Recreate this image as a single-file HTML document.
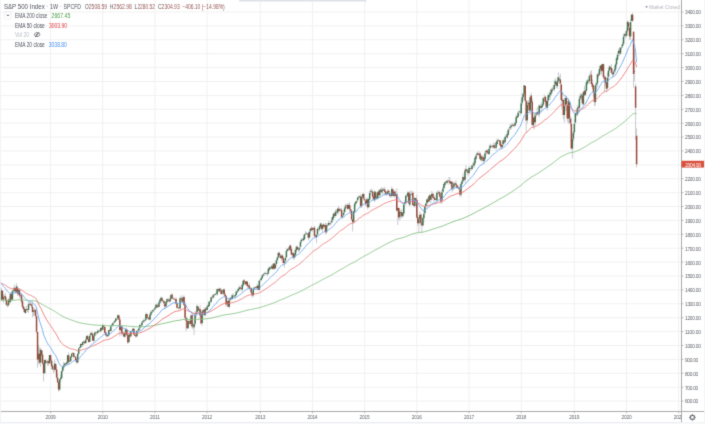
<!DOCTYPE html>
<html><head><meta charset="utf-8">
<style>
html,body{margin:0;padding:0;background:#fff;}
body{width:705px;height:424px;overflow:hidden;position:relative;font-family:"Liberation Sans",sans-serif;}
svg{will-change:transform}
</style></head><body>
<svg width="705" height="424" viewBox="0 0 705 424" font-family="Liberation Sans, sans-serif" style="position:absolute;left:0;top:0">
<defs><filter id="bl" filterUnits="userSpaceOnUse" x="-4" y="-4" width="713" height="432" color-interpolation-filters="sRGB"><feConvolveMatrix order="3" kernelMatrix="0.0144 0.0912 0.0144 0.0912 0.5776 0.0912 0.0144 0.0912 0.0144" edgeMode="none" preserveAlpha="true"/></filter></defs><g filter="url(#bl)">
<rect x="-5" y="-5" width="715" height="434" fill="#fff"/>
<path d="M0 401.09H681.50M0 387.19H681.50M0 373.30H681.50M0 359.40H681.50M0 345.50H681.50M0 331.61H681.50M0 317.71H681.50M0 303.82H681.50M0 289.92H681.50M0 276.02H681.50M0 262.13H681.50M0 248.23H681.50M0 234.34H681.50M0 220.44H681.50M0 206.54H681.50M0 192.65H681.50M0 178.75H681.50M0 164.86H681.50M0 150.96H681.50M0 137.06H681.50M0 123.17H681.50M0 109.27H681.50M0 95.38H681.50M0 81.48H681.50M0 67.58H681.50M0 53.69H681.50M0 39.79H681.50M0 25.90H681.50M0 12.00H681.50M50.60 0V411.50M102.78 0V411.50M154.95 0V411.50M207.13 0V411.50M260.31 0V411.50M312.49 0V411.50M364.66 0V411.50M416.84 0V411.50M469.02 0V411.50M521.19 0V411.50M574.37 0V411.50M626.55 0V411.50M678.73 0V411.50" stroke="#f1f1f1" stroke-width="1.00" fill="none"/>
<g font-family="Liberation Sans, sans-serif">
<text x="3.90" y="8.70" textLength="40.90" lengthAdjust="spacingAndGlyphs" fill="#50535e" font-size="6.30">S&amp;P 500 Index</text>
<text x="50.10" y="8.70" textLength="8.10" lengthAdjust="spacingAndGlyphs" fill="#50535e" font-size="6.30">1W</text>
<text x="63.50" y="8.70" textLength="17.60" lengthAdjust="spacingAndGlyphs" fill="#50535e" font-size="6.30">SPCFD</text>
<rect x="46.5" y="5.9" width="1.3" height="0.7" fill="#b4b7bf"/><rect x="59.9" y="5.9" width="1.3" height="0.7" fill="#b4b7bf"/>
<text x="84.90" y="8.70" textLength="3.70" lengthAdjust="spacingAndGlyphs" fill="#50535e" font-size="6.30">O</text>
<text x="88.80" y="8.70" textLength="18.20" lengthAdjust="spacingAndGlyphs" fill="#985858" font-size="6.30">2508.59</text>
<text x="110.10" y="8.70" textLength="3.40" lengthAdjust="spacingAndGlyphs" fill="#50535e" font-size="6.30">H</text>
<text x="113.60" y="8.70" textLength="18.20" lengthAdjust="spacingAndGlyphs" fill="#985858" font-size="6.30">2562.98</text>
<text x="134.50" y="8.70" textLength="2.90" lengthAdjust="spacingAndGlyphs" fill="#50535e" font-size="6.30">L</text>
<text x="137.40" y="8.70" textLength="17.50" lengthAdjust="spacingAndGlyphs" fill="#985858" font-size="6.30">2280.52</text>
<text x="157.90" y="8.70" textLength="3.60" lengthAdjust="spacingAndGlyphs" fill="#50535e" font-size="6.30">C</text>
<text x="161.60" y="8.70" textLength="18.10" lengthAdjust="spacingAndGlyphs" fill="#985858" font-size="6.30">2304.93</text>
<text x="182.30" y="8.70" textLength="42.40" lengthAdjust="spacingAndGlyphs" fill="#985858" font-size="6.30">−406.10 (−14.98%)</text>
<text x="15.00" y="17.70" textLength="32.30" lengthAdjust="spacingAndGlyphs" fill="#50535e" font-size="6.30">EMA 200 close</text>
<text x="51.60" y="17.70" textLength="18.70" lengthAdjust="spacingAndGlyphs" fill="#4c9c4c" font-size="6.30">2667.45</text>
<text x="15.00" y="27.90" textLength="29.80" lengthAdjust="spacingAndGlyphs" fill="#50535e" font-size="6.30">EMA 50 close</text>
<text x="49.00" y="27.90" textLength="17.90" lengthAdjust="spacingAndGlyphs" fill="#e03a3a" font-size="6.30">3003.90</text>
<text x="15.00" y="36.90" textLength="14.00" lengthAdjust="spacingAndGlyphs" fill="#b8bbc4" font-size="6.30">Vol 20</text>
<text x="15.00" y="47.30" textLength="29.80" lengthAdjust="spacingAndGlyphs" fill="#50535e" font-size="6.30">EMA 20 close</text>
<text x="48.80" y="47.30" textLength="18.10" lengthAdjust="spacingAndGlyphs" fill="#4a8ee8" font-size="6.30">3038.80</text>
</g>
<rect x="4.6" y="11.6" width="6.6" height="7.6" rx="0.8" fill="none" stroke="#e3e5ea" stroke-width="0.5"/>
<path d="M6.8 14.7L7.95 15.9L9.1 14.7" fill="none" stroke="#555" stroke-width="0.95"/>
<g transform="translate(37.1 34.6)" fill="none" stroke="#5a5d66" stroke-width="0.8"><path d="M-3.1 0Q0 -4.0 3.1 0Q0 4.0 -3.1 0Z"/><circle r="0.75" fill="#5a5d66" stroke="none"/><path d="M-2.1 2.5L2.1 -2.5"/></g>
<path d="M-2.58 274.69V290.33M-1.58 285.00V292.41M-0.57 287.32V300.87M0.43 299.20V303.15M1.43 287.59V300.60M2.44 290.26V299.95M3.44 294.44V302.85M4.44 294.53V298.10M5.45 292.85V301.25M6.45 297.78V305.64M7.45 303.19V307.39M8.46 298.36V306.46M9.46 296.24V303.84M10.46 293.16V303.34M11.47 291.67V300.33M12.47 289.61V300.49M13.47 287.21V292.39M14.48 284.52V292.46M15.48 287.60V293.80M16.48 283.40V293.55M17.49 285.95V295.80M18.49 288.88V295.36M19.49 288.07V298.27M20.50 293.47V297.68M21.50 293.88V303.50M22.50 297.83V308.67M23.51 305.74V311.47M24.51 307.15V312.64M25.52 308.51V313.87M26.52 305.90V310.50M27.52 309.00V312.17M28.53 301.93V312.90M29.53 302.66V305.16M30.53 301.60V305.39M31.54 303.57V308.13M32.54 301.27V317.12M33.54 309.71V316.28M34.55 308.30V314.52M35.55 309.40V318.12M36.55 315.12V333.39M37.56 331.89V367.77M38.56 344.67V364.26M39.56 347.59V364.26M40.57 347.73V367.04M41.57 349.90V355.76M42.57 350.92V364.64M43.58 362.87V381.49M44.58 359.82V373.30M45.58 359.06V363.76M46.59 362.04V363.76M47.59 360.29V365.91M48.59 358.41V365.74M49.60 354.74V363.69M50.60 354.68V362.77M51.60 359.14V369.79M52.61 364.35V370.02M53.61 368.45V373.17M54.61 360.04V371.98M55.62 362.84V369.89M56.62 366.22V379.04M57.62 374.40V383.06M58.63 381.36V391.81M59.63 379.13V391.08M60.63 374.50V382.26M61.64 370.75V378.53M62.64 366.86V372.28M63.64 361.75V370.93M64.65 363.30V366.69M65.65 362.51V365.87M66.65 361.51V364.73M67.66 354.58V363.62M68.66 352.25V364.49M69.66 359.83V362.66M70.67 356.49V361.75M71.67 352.87V357.91M72.67 352.14V354.15M73.68 352.27V358.36M74.68 355.90V357.64M75.69 355.74V361.80M76.69 358.72V364.15M77.69 353.59V363.16M78.70 347.97V354.74M79.70 346.29V348.87M80.70 343.32V347.84M81.71 343.39V346.45M82.71 341.41V346.94M83.71 340.36V343.26M84.72 341.12V343.81M85.72 337.58V343.94M86.72 334.72V340.39M87.73 335.05V339.76M88.73 338.74V342.97M89.73 334.16V342.18M90.74 331.56V336.61M91.74 331.24V335.38M92.74 332.48V341.05M93.75 334.80V342.19M94.75 332.05V336.72M95.75 331.31V333.61M96.76 330.78V334.87M97.76 328.90V333.48M98.76 330.11V331.79M99.77 329.57V332.53M100.77 327.26V332.07M101.77 326.46V329.95M102.78 323.74V330.59M103.78 325.04V327.72M104.78 326.73V333.26M105.79 331.20V336.13M106.79 333.67V337.61M107.79 333.17V336.44M108.80 329.76V336.32M109.80 328.39V331.41M110.80 324.96V331.52M111.81 323.75V326.16M112.81 322.24V326.30M113.81 321.50V324.14M114.82 320.01V322.64M115.82 317.95V321.58M116.82 318.44V320.66M117.83 314.77V319.39M118.83 314.23V320.15M119.83 317.02V336.36M120.84 325.79V330.83M121.84 325.56V335.77M122.84 331.79V335.24M123.85 331.65V337.26M124.85 329.78V338.07M125.86 327.59V335.01M126.86 328.72V336.25M127.86 334.67V343.99M128.87 333.09V343.22M129.87 331.70V337.62M130.87 330.41V337.32M131.88 330.38V332.35M132.88 327.98V331.30M133.88 327.63V335.15M134.89 334.00V335.96M135.89 334.80V337.96M136.89 329.60V336.64M137.90 329.26V331.60M138.90 327.74V330.45M139.90 323.98V329.55M140.91 324.51V326.36M141.91 321.61V327.12M142.91 320.31V323.32M143.92 318.49V322.43M144.92 318.93V322.49M145.92 312.46V320.40M146.93 313.33V318.93M147.93 316.62V319.72M148.93 317.07V319.83M149.94 313.49V320.62M150.94 309.95V316.54M151.94 311.24V313.35M152.95 309.24V311.87M153.95 308.76V312.24M154.95 307.13V309.80M155.96 304.21V308.25M156.96 303.35V308.27M157.96 304.67V307.80M158.97 300.96V307.06M159.97 298.44V303.99M160.97 296.95V301.09M161.98 296.46V302.31M162.98 300.41V301.93M163.98 299.66V305.58M164.99 301.13V309.01M165.99 301.32V306.72M166.99 298.36V303.80M168.00 297.80V301.47M169.00 299.16V302.25M170.00 296.41V302.63M171.01 294.04V300.06M172.01 293.25V299.61M173.01 296.38V299.56M174.02 298.10V300.09M175.02 297.66V300.73M176.03 297.18V304.15M177.03 302.52V308.32M178.03 307.44V308.81M179.04 306.10V309.41M180.04 297.68V309.05M181.04 295.31V299.34M182.05 297.38V301.95M183.05 295.44V302.20M184.05 295.39V305.76M185.06 301.78V318.79M186.06 317.71V331.40M187.06 316.46V328.83M188.07 319.56V328.63M189.07 320.57V323.50M190.07 320.34V324.77M191.08 314.62V326.09M192.08 313.00V328.58M193.08 323.29V329.47M194.09 321.74V335.11M195.09 311.13V325.77M196.09 310.49V317.67M197.10 304.14V312.91M198.10 306.33V311.27M199.10 308.06V314.37M200.11 305.20V318.80M201.11 313.92V324.43M202.11 309.85V325.54M203.12 309.47V314.72M204.12 308.83V316.56M205.12 306.81V315.92M206.13 307.30V310.89M207.13 304.76V310.37M208.13 304.69V307.72M209.14 301.38V306.48M210.14 300.43V304.00M211.14 296.21V302.71M212.15 296.56V299.10M213.15 293.88V298.71M214.15 293.80V297.61M215.16 293.56V295.60M216.16 291.96V294.59M217.16 288.30V296.06M218.17 288.87V290.89M219.17 287.59V292.41M220.17 287.95V291.37M221.18 288.56V294.54M222.18 290.39V294.45M223.18 289.14V294.92M224.19 288.00V295.99M225.19 293.05V297.39M226.19 295.24V306.81M227.20 300.36V304.94M228.20 299.09V307.01M229.21 299.79V308.44M230.21 297.42V301.40M231.21 296.95V300.37M232.22 293.90V299.78M233.22 293.29V297.72M234.22 295.66V297.43M235.23 294.22V298.56M236.23 290.32V295.73M237.23 290.41V292.72M238.24 288.41V292.34M239.24 285.58V290.50M240.24 285.83V289.48M241.25 287.47V291.45M242.25 282.99V291.44M243.25 279.31V286.97M244.26 279.40V282.53M245.26 280.96V285.07M246.26 280.84V285.12M247.27 280.82V288.15M248.27 284.50V287.36M249.27 282.89V289.13M250.28 286.74V290.99M251.28 287.20V293.59M252.28 292.70V297.79M253.29 287.13V296.67M254.29 286.96V289.69M255.29 286.05V288.74M256.30 286.25V289.61M257.30 283.79V288.79M258.30 284.43V290.73M259.31 280.22V290.20M260.31 278.97V280.98M261.31 276.40V281.33M262.32 274.84V278.73M263.32 273.79V276.22M264.32 272.17V275.73M265.33 271.47V274.54M266.33 272.63V274.22M267.33 272.73V276.17M268.34 267.67V274.24M269.34 266.35V270.74M270.34 267.49V269.05M271.35 264.53V268.82M272.35 265.00V269.79M273.35 263.38V269.52M274.36 263.07V269.91M275.36 263.60V268.81M276.37 259.40V265.03M277.37 256.94V262.34M278.37 252.17V258.04M279.38 251.44V255.74M280.38 254.28V258.61M281.38 254.68V260.70M282.39 254.04V260.35M283.39 256.08V264.73M284.39 260.18V267.64M285.40 256.76V263.13M286.40 249.11V258.06M287.40 248.07V251.47M288.41 248.33V250.66M289.41 244.78V250.95M290.41 244.64V251.34M291.42 246.66V255.49M292.42 252.80V257.19M293.42 251.93V259.95M294.43 253.19V259.27M295.43 248.77V257.32M296.43 245.82V252.84M297.44 245.42V250.23M298.44 246.99V252.06M299.44 247.01V252.00M300.45 239.41V247.43M301.45 238.04V242.53M302.45 238.97V240.77M303.46 235.76V241.15M304.46 233.86V239.84M305.46 231.21V235.10M306.47 232.18V234.39M307.47 232.95V236.37M308.47 231.99V240.42M309.48 230.28V238.66M310.48 227.37V233.42M311.48 226.06V231.08M312.49 227.17V231.63M313.49 227.07V230.21M314.49 225.80V237.47M315.50 234.58V237.19M316.50 234.61V242.97M317.50 227.19V235.40M318.51 228.02V230.18M319.51 224.99V231.39M320.51 222.60V228.52M321.52 223.02V230.49M322.52 224.05V231.71M323.52 223.08V227.68M324.53 224.47V227.25M325.53 222.62V234.44M326.54 223.27V233.37M327.54 224.51V226.63M328.54 220.78V225.88M329.55 222.32V225.01M330.55 221.77V225.70M331.55 217.87V222.71M332.56 215.40V222.86M333.56 212.96V220.33M334.56 211.90V216.23M335.57 209.42V216.74M336.57 210.37V213.58M337.57 207.83V214.72M338.58 205.82V213.55M339.58 207.62V211.54M340.58 208.33V211.55M341.59 207.81V217.68M342.59 214.77V218.41M343.59 210.50V216.19M344.60 205.28V213.01M345.60 203.77V210.53M346.60 204.31V207.09M347.61 203.57V209.87M348.61 203.11V209.45M349.61 202.12V211.96M350.62 207.40V213.81M351.62 209.60V219.61M352.62 219.61V231.46M353.63 210.87V223.31M354.63 202.37V213.08M355.63 200.74V205.49M356.64 200.30V203.22M357.64 196.33V201.10M358.64 195.49V198.72M359.65 195.30V197.75M360.65 194.29V207.19M361.65 195.66V208.00M362.66 193.35V198.55M363.66 193.12V200.39M364.66 197.31V201.40M365.67 198.59V205.87M366.67 198.44V206.70M367.67 197.35V209.51M368.68 197.81V207.90M369.68 190.52V200.30M370.68 189.01V195.11M371.69 188.70V192.94M372.69 189.56V200.36M373.69 194.09V200.43M374.70 190.77V202.10M375.70 191.44V198.87M376.71 194.74V199.25M377.71 190.93V199.55M378.71 189.38V196.41M379.72 189.71V197.90M380.72 188.01V192.55M381.72 187.35V193.62M382.73 187.76V194.86M383.73 187.81V190.71M384.73 187.02V195.42M385.74 190.87V195.63M386.74 191.72V195.86M387.74 188.90V194.70M388.75 189.78V195.01M389.75 191.79V197.41M390.75 194.73V197.99M391.76 186.36V196.94M392.76 188.00V196.32M393.76 189.61V197.38M394.77 190.60V197.96M395.77 191.82V196.95M396.77 188.16V212.20M397.78 207.52V225.03M398.78 207.52V220.02M399.78 210.13V220.65M400.79 210.07V218.61M401.79 208.74V217.65M402.79 212.19V217.41M403.80 202.47V214.99M404.80 200.43V204.95M405.80 194.41V205.35M406.81 193.90V197.26M407.81 191.23V196.94M408.81 191.59V204.74M409.82 191.46V206.46M410.82 190.32V195.15M411.82 190.71V195.81M412.83 191.30V205.71M413.83 202.70V206.93M414.83 197.18V207.77M415.84 197.28V201.76M416.84 194.74V218.35M417.84 214.31V225.99M418.85 219.19V232.63M419.85 211.39V222.05M420.85 213.71V226.16M421.86 223.08V232.93M422.86 216.39V226.44M423.86 208.82V222.36M424.87 205.29V214.03M425.87 202.98V208.50M426.88 198.76V206.86M427.88 197.23V203.41M428.88 195.38V202.40M429.89 193.97V201.40M430.89 194.56V203.39M431.89 190.89V199.86M432.90 192.87V198.97M433.90 196.40V201.96M434.90 194.95V200.72M435.91 198.09V200.60M436.91 191.28V202.35M437.91 190.21V194.12M438.92 190.12V195.28M439.92 191.09V198.53M440.92 195.46V203.87M441.93 190.05V203.59M442.93 186.50V192.75M443.93 182.84V189.41M444.94 181.63V186.81M445.94 180.07V184.83M446.94 180.49V184.08M447.95 179.71V182.43M448.95 177.01V184.86M449.95 177.11V184.01M450.96 180.75V187.15M451.96 180.99V192.22M452.96 185.54V190.77M453.97 181.58V187.82M454.97 182.17V185.12M455.97 180.25V187.59M456.98 184.17V188.66M457.98 185.90V187.85M458.98 185.24V190.21M459.99 188.27V197.05M460.99 183.09V196.85M461.99 180.06V184.95M463.00 173.39V182.22M464.00 176.14V181.25M465.00 168.59V182.71M466.01 165.00V171.31M467.01 169.01V172.74M468.01 170.62V176.55M469.02 166.09V174.64M470.02 166.37V170.44M471.02 167.48V170.97M472.03 164.96V170.22M473.03 162.33V167.29M474.03 161.11V168.08M475.04 156.56V164.64M476.04 154.32V160.03M477.05 152.40V155.86M478.05 150.95V155.82M479.05 151.42V155.54M480.06 152.21V159.53M481.06 155.40V161.41M482.06 154.99V158.99M483.07 154.78V163.27M484.07 157.08V162.09M485.07 150.89V160.12M486.08 149.49V154.69M487.08 149.69V153.34M488.08 151.14V155.11M489.09 147.38V155.02M490.09 143.62V150.64M491.09 144.71V147.88M492.10 145.26V148.13M493.10 143.35V148.86M494.10 142.35V148.90M495.11 146.07V149.17M496.11 141.76V150.30M497.11 138.66V145.53M498.12 138.40V141.94M499.12 139.59V141.46M500.12 139.97V145.88M501.13 141.86V149.90M502.13 144.37V148.65M503.13 138.79V145.78M504.14 138.41V144.91M505.14 135.39V143.71M506.14 133.89V138.41M507.15 132.50V138.82M508.15 127.88V135.79M509.15 128.16V132.44M510.16 123.90V129.66M511.16 123.78V129.52M512.16 122.70V127.28M513.17 123.87V126.61M514.17 122.50V127.46M515.17 120.99V126.47M516.18 115.10V124.88M517.18 114.51V118.45M518.18 110.84V117.56M519.19 110.72V112.98M520.19 109.77V115.70M521.19 99.22V114.07M522.20 92.76V105.48M523.20 93.85V100.52M524.20 85.23V94.26M525.21 85.51V100.93M526.21 100.52V132.52M527.22 100.70V123.72M528.22 100.39V106.41M529.22 99.71V111.68M530.23 95.48V114.55M531.23 92.59V104.03M532.23 98.32V126.33M533.24 113.18V128.03M534.24 113.02V129.59M535.24 111.80V125.16M536.25 112.38V116.87M537.25 107.16V115.41M538.25 110.69V115.58M539.26 104.58V117.19M540.26 104.53V108.17M541.26 102.38V112.58M542.27 103.38V108.85M543.27 97.51V106.18M544.27 94.48V102.18M545.28 95.83V104.03M546.28 98.83V107.53M547.28 96.68V110.72M548.29 93.25V104.82M549.29 92.01V100.20M550.29 89.70V99.26M551.30 87.82V95.88M552.30 86.79V93.38M553.30 84.89V90.61M554.31 79.84V91.41M555.31 78.19V86.13M556.31 81.99V87.64M557.32 77.46V88.77M558.32 72.10V82.85M559.32 75.98V83.21M560.33 73.63V91.59M561.33 83.38V108.27M562.33 92.26V105.98M563.34 99.82V119.28M564.34 104.96V122.68M565.34 95.68V111.29M566.35 95.83V111.05M567.35 104.04V121.95M568.35 98.43V124.00M569.36 100.86V122.77M570.36 116.56V125.65M571.36 117.58V149.31M572.37 134.28V158.38M573.37 130.69V141.38M574.37 119.38V134.27M575.38 111.61V124.25M576.38 110.90V116.27M577.39 105.07V116.06M578.39 105.21V112.98M579.39 95.34V112.35M580.40 92.93V99.64M581.40 93.73V99.85M582.40 93.00V105.16M583.41 91.38V105.68M584.41 85.79V96.05M585.41 89.43V96.16M586.42 80.45V91.56M587.42 78.73V85.03M588.42 79.20V83.41M589.43 74.04V83.41M590.43 71.30V76.09M591.43 70.31V85.46M592.44 79.33V89.12M593.44 84.35V96.79M594.44 90.98V106.34M595.45 83.70V105.27M596.45 81.94V89.85M597.45 73.19V87.22M598.46 71.56V78.17M599.46 66.10V75.50M600.46 65.08V72.31M601.47 63.96V74.79M602.47 63.83V71.89M603.47 63.69V79.53M604.48 75.37V92.30M605.48 75.83V86.23M606.48 81.29V91.89M607.49 72.66V89.74M608.49 68.13V80.51M609.49 65.28V71.62M610.50 65.97V69.78M611.50 64.13V74.11M612.50 69.45V76.82M613.51 70.82V76.79M614.51 65.69V72.08M615.51 63.11V72.43M616.52 57.34V66.72M617.52 53.36V60.47M618.52 48.68V56.06M619.53 47.11V55.74M620.53 46.95V54.67M621.53 45.01V49.16M622.54 41.80V48.02M623.54 33.67V45.14M624.54 33.12V36.73M625.55 31.59V37.99M626.55 27.69V37.31M627.56 20.79V32.08M628.56 21.46V28.83M629.56 26.87V39.71M630.57 19.12V39.94M631.57 14.07V21.14M632.57 12.90V21.94M633.58 31.48V87.62M634.58 48.59V81.27M635.58 83.90V140.00M636.59 128.31V167.56" stroke="#cacbd0" stroke-width="1.00" fill="none"/>
<path d="M0.43 299.65V300.95M1.43 290.61V299.52M3.44 297.01V299.46M4.44 296.45V296.99M8.46 299.79V305.19M10.46 294.09V301.73M12.47 291.31V299.45M13.47 290.34V290.90M14.48 288.11V290.40M16.48 286.45V291.77M18.49 289.92V293.44M25.52 309.37V312.91M27.52 309.37V309.96M28.53 304.37V309.70M33.54 310.63V311.94M34.55 309.94V310.44M38.56 353.77V359.54M40.57 349.84V362.60M44.58 359.96V373.30M46.59 362.23V362.73M47.59 361.21V362.20M49.60 355.09V363.26M54.61 363.71V369.52M59.63 379.41V389.55M60.63 377.74V379.57M61.64 371.07V378.26M62.64 367.32V370.85M63.64 365.38V367.49M64.65 363.57V365.33M66.65 362.60V364.16M67.66 355.23V362.83M69.66 361.21V361.87M70.67 356.76V361.02M71.67 353.84V356.88M72.67 353.01V353.51M77.69 353.84V362.49M78.70 348.42V353.80M79.70 347.31V348.13M80.70 344.11V347.16M82.71 341.89V344.98M83.71 341.61V342.20M85.72 339.67V343.04M86.72 336.05V339.28M89.73 335.64V341.71M90.74 333.41V335.34M93.75 335.92V340.64M94.75 332.58V335.69M96.76 332.68V333.18M97.76 330.91V332.91M98.76 330.58V331.08M100.77 328.00V331.27M102.78 325.35V329.76M107.79 335.08V336.17M108.80 330.36V335.21M110.80 326.19V330.92M111.81 324.66V325.75M112.81 323.27V325.26M113.81 322.30V322.80M114.82 320.77V322.13M115.82 318.55V320.76M116.82 318.72V319.22M117.83 315.35V318.36M120.84 326.61V330.26M122.84 333.02V333.52M124.85 332.72V336.66M125.86 329.25V332.42M128.87 334.67V342.08M130.87 331.33V336.31M132.88 328.69V330.88M136.89 331.05V336.23M137.90 330.22V330.78M138.90 328.13V330.14M139.90 324.94V327.74M140.91 325.10V325.60M141.91 322.44V325.21M142.91 321.05V322.34M143.92 320.07V320.86M144.92 320.07V320.69M145.92 314.24V319.81M147.93 317.74V318.24M149.94 314.38V319.66M150.94 312.15V314.86M151.94 311.60V312.56M152.95 309.93V311.35M153.95 309.58V310.08M154.95 307.71V309.33M155.96 304.79V307.92M158.97 302.43V306.64M159.97 299.79V302.63M160.97 297.84V300.38M162.98 300.78V301.28M165.99 302.01V306.25M166.99 299.37V302.13M170.00 298.67V301.60M171.01 294.92V298.63M178.03 307.82V308.32M180.04 298.26V308.39M181.04 297.69V298.19M183.05 297.56V301.77M188.07 320.91V328.25M191.08 315.49V323.84M194.09 323.97V327.30M195.09 314.38V323.70M196.09 312.43V313.89M197.10 305.90V312.19M199.10 308.96V310.47M202.11 311.60V323.08M203.12 310.07V311.54M205.12 308.68V315.20M207.13 306.87V309.89M208.13 305.34V306.89M209.14 301.73V306.07M210.14 301.46V301.96M211.14 297.56V301.75M213.15 295.34V297.48M214.15 294.64V295.18M215.16 294.09V294.74M217.16 289.36V294.22M219.17 288.81V291.44M222.18 292.84V293.60M223.18 289.50V292.74M227.20 301.31V304.01M229.21 300.34V306.87M230.21 297.84V299.75M232.22 295.20V299.07M234.22 295.90V296.40M235.23 295.06V296.15M236.23 291.87V295.03M237.23 291.17V292.16M238.24 289.09V291.05M239.24 287.42V289.16M242.25 284.64V289.51M243.25 280.75V285.36M246.26 281.44V283.95M248.27 285.33V286.37M250.28 287.97V288.49M253.29 288.67V295.18M254.29 287.70V288.43M257.30 285.75V287.97M259.31 280.75V289.82M260.31 279.85V280.35M261.31 277.97V279.93M262.32 275.61V278.06M263.32 274.22V275.41M264.32 273.52V274.04M265.33 273.20V273.70M267.33 273.52V274.13M268.34 268.94V273.46M269.34 267.55V270.11M270.34 268.16V268.66M271.35 266.44V268.20M273.35 263.80V268.68M275.36 264.63V268.19M276.37 260.18V264.24M277.37 257.54V259.96M278.37 252.82V257.48M281.38 256.15V258.30M284.39 261.29V263.10M285.40 257.68V260.76M286.40 251.01V257.14M287.40 249.34V250.95M289.41 246.84V249.44M292.42 253.23V254.75M294.43 254.49V257.46M295.43 249.90V254.90M296.43 246.84V250.36M298.44 249.28V249.78M299.44 247.68V249.51M300.45 241.98V246.85M301.45 240.03V241.52M302.45 239.49V239.99M303.46 238.37V240.20M304.46 234.61V239.36M305.46 233.78V234.53M306.47 233.46V233.96M307.47 233.43V233.93M309.48 231.70V237.40M310.48 228.64V231.29M312.49 228.50V230.03M316.50 234.75V236.70M317.50 229.06V234.56M318.51 229.22V229.72M319.51 226.14V229.28M320.51 223.50V226.76M322.52 225.16V229.00M324.53 225.30V226.66M326.54 225.44V232.27M328.54 223.08V225.08M330.55 223.45V223.95M331.55 220.44V222.22M332.56 217.10V220.06M333.56 213.63V218.05M335.57 211.69V215.96M337.57 208.63V212.46M339.58 209.60V210.84M342.59 216.13V216.81M343.59 212.80V215.25M344.60 208.21V212.26M345.60 206.13V208.33M346.60 205.43V206.01M348.61 205.15V208.41M353.63 211.41V222.12M354.63 204.04V211.63M355.63 202.10V204.10M356.64 200.99V202.18M357.64 197.65V200.28M358.64 197.09V197.74M359.65 196.12V196.71M361.65 196.68V205.71M362.66 194.18V196.80M366.67 199.46V203.58M368.68 198.90V207.34M369.68 193.06V199.46M370.68 191.26V192.27M374.70 191.54V200.24M376.71 197.23V198.38M377.71 192.37V198.21M379.72 190.29V195.14M381.72 190.42V192.19M382.73 189.45V191.10M383.73 189.00V189.50M386.74 193.46V193.96M387.74 191.26V194.06M391.76 188.90V195.97M393.76 192.09V195.79M395.77 193.76V195.83M397.78 208.07V210.57M399.78 211.82V216.71M400.79 212.38V213.05M402.79 213.35V216.24M403.80 204.46V213.51M404.80 201.96V203.82M405.80 196.12V202.59M406.81 195.57V196.23M407.81 192.79V195.84M409.82 194.18V204.70M410.82 193.89V194.39M411.82 193.76V194.35M414.83 198.07V206.01M418.85 219.47V223.22M419.85 214.88V219.36M422.86 217.94V225.41M423.86 213.77V218.18M424.87 206.54V213.16M425.87 203.49V206.05M426.88 199.60V203.26M428.88 196.40V201.42M430.89 195.29V199.74M431.89 193.76V196.17M435.91 199.31V199.81M436.91 192.79V200.27M437.91 192.72V193.22M441.93 192.23V200.22M442.93 188.48V191.76M443.93 184.03V188.27M444.94 182.23V184.78M446.94 181.11V182.94M450.96 181.53V184.12M452.96 187.23V188.49M453.97 183.62V187.11M454.97 183.06V183.56M457.98 186.86V187.36M460.99 183.75V194.66M461.99 181.25V183.98M463.00 176.95V181.22M465.00 170.41V179.73M467.01 169.86V171.42M469.02 168.05V173.06M470.02 168.33V168.97M472.03 165.55V169.09M474.03 162.63V165.87M475.04 157.77V163.21M476.04 155.55V158.79M477.05 153.32V154.76M479.05 154.02V154.87M481.06 156.10V160.16M484.07 158.05V161.26M485.07 153.18V158.76M486.08 151.10V152.43M489.09 148.74V154.04M490.09 145.54V148.34M493.10 145.68V147.03M495.11 147.27V147.77M496.11 142.76V147.65M497.11 140.82V143.88M499.12 140.14V140.64M502.13 144.98V147.00M503.13 140.26V144.29M505.14 137.06V141.69M507.15 134.42V137.45M508.15 130.25V134.92M510.16 126.64V128.23M511.16 125.81V127.01M512.16 124.84V125.42M515.17 122.89V125.50M516.18 117.33V122.99M517.18 115.94V117.71M518.18 112.75V116.55M519.19 111.41V111.91M521.19 103.30V113.17M522.20 97.32V102.85M523.20 93.99V97.32M524.20 85.23V94.13M527.22 104.83V120.21M528.22 102.74V104.12M530.23 97.32V110.29M533.24 117.47V125.17M535.24 115.39V122.26M536.25 113.44V114.82M539.26 105.38V114.02M541.26 106.35V108.07M542.27 104.41V106.97M543.27 98.29V104.84M547.28 100.93V107.91M548.29 95.24V100.43M549.29 95.10V96.84M550.29 92.74V94.98M551.30 89.82V93.21M553.30 88.43V89.32M554.31 84.95V89.26M555.31 81.20V84.41M557.32 80.79V86.28M558.32 77.31V81.02M562.33 99.82V100.90M564.34 106.08V115.11M565.34 98.02V105.21M568.35 100.93V118.53M572.37 139.01V148.60M573.37 132.62V138.65M574.37 123.72V132.34M575.38 113.30V122.41M577.39 108.30V114.60M579.39 98.71V107.82M580.40 96.35V98.46M581.40 94.82V96.60M583.41 92.32V104.31M585.41 90.65V94.56M586.42 82.45V90.68M587.42 80.51V83.62M588.42 80.79V81.37M589.43 75.92V81.32M595.45 85.23V102.05M596.45 83.29V84.73M597.45 74.53V83.16M599.46 68.97V74.65M600.46 65.64V68.97M602.47 63.97V70.78M607.49 77.87V87.72M608.49 70.50V76.64M609.49 66.61V70.27M613.51 71.75V74.36M614.51 69.53V71.15M615.51 64.39V69.43M616.52 58.27V64.47M617.52 54.66V59.58M618.52 50.91V53.85M620.53 47.99V53.53M621.53 47.08V47.58M622.54 44.10V46.37M623.54 36.87V43.68M624.54 34.23V36.32M626.55 30.76V35.85M627.56 21.73V30.63M630.57 22.01V36.54M631.57 14.76V20.96" stroke="#3f7752" stroke-width="1.50" fill="none"/>
<path d="M-2.58 276.46V288.39M-1.58 287.92V289.78M-0.57 289.58V300.34M2.44 290.72V299.51M5.45 296.29V299.65M6.45 299.87V304.79M7.45 304.84V305.48M9.46 299.62V301.73M11.47 293.78V299.37M15.48 287.99V291.59M17.49 287.82V293.39M19.49 290.25V295.48M20.50 294.74V295.48M21.50 295.18V301.45M22.50 301.18V306.87M23.51 306.47V309.10M24.51 308.92V312.29M26.52 309.11V309.79M29.53 303.84V304.34M30.53 303.85V304.93M31.54 304.84V306.32M32.54 306.67V311.88M35.55 309.77V315.91M36.55 316.28V331.75M37.56 332.02V359.51M39.56 353.84V362.62M41.57 350.18V355.23M42.57 354.86V363.15M43.58 363.15V373.30M45.58 360.18V362.74M48.59 361.27V363.29M50.60 355.32V360.79M51.60 360.70V366.35M52.61 366.05V368.99M53.61 369.19V369.69M55.62 364.02V369.68M56.62 369.61V377.46M57.62 377.65V382.33M58.63 382.33V389.55M65.65 363.65V364.15M68.66 355.18V361.76M73.68 352.94V356.48M74.68 356.31V356.90M75.69 357.14V359.96M76.69 359.52V362.32M81.71 344.01V344.95M84.72 341.71V343.28M87.73 336.28V339.39M88.73 339.29V342.03M91.74 332.97V334.53M92.74 334.35V340.50M95.75 332.39V332.89M99.77 330.85V331.35M101.77 327.78V329.52M103.78 325.36V326.61M104.78 327.08V332.72M105.79 332.47V335.22M106.79 335.16V336.33M109.80 330.37V331.05M118.83 315.42V319.52M119.83 319.52V330.08M121.84 326.45V333.41M123.85 333.17V336.47M126.86 329.75V334.94M127.86 334.94V342.45M129.87 334.61V336.47M131.88 330.96V331.46M133.88 328.85V334.53M134.89 334.39V335.64M135.89 335.14V336.47M146.93 314.05V317.85M148.93 317.39V319.24M156.96 304.82V306.18M157.96 306.09V307.15M161.98 297.96V301.04M163.98 301.08V303.26M164.99 303.40V306.73M168.00 299.47V299.97M169.00 300.05V301.18M172.01 294.44V298.26M173.01 297.90V298.54M174.02 298.80V299.30M175.02 299.04V299.54M176.03 298.95V303.82M177.03 303.65V307.85M179.04 307.39V308.26M182.05 298.26V301.59M184.05 297.00V304.93M185.06 304.79V317.85M186.06 317.85V320.63M187.06 320.63V328.27M189.07 320.92V321.42M190.07 320.89V324.10M192.08 315.13V326.61M193.08 326.85V327.35M198.10 306.77V310.35M200.11 309.15V315.49M201.11 315.61V323.41M204.12 309.67V315.07M206.13 308.55V309.65M212.15 297.44V297.94M216.16 293.61V294.11M218.17 289.34V290.34M220.17 288.75V290.20M221.18 290.26V294.09M224.19 289.75V294.23M225.19 294.59V296.45M226.19 296.22V304.51M228.20 301.31V306.87M231.21 298.07V298.95M233.22 295.70V296.31M240.24 287.56V288.39M241.25 288.18V288.95M244.26 280.55V281.58M245.26 281.59V284.22M247.27 281.66V285.89M249.27 285.44V288.39M251.28 288.09V292.70M252.28 292.70V295.62M255.29 287.02V287.52M256.30 287.57V288.11M258.30 285.99V289.64M266.33 273.42V273.92M272.35 266.37V268.66M274.36 263.56V268.38M279.38 253.16V255.18M280.38 255.46V257.82M282.39 255.57V258.52M283.39 258.25V263.10M288.41 248.84V249.48M290.41 245.38V249.48M291.42 248.96V254.49M293.42 253.32V257.54M297.44 247.37V249.34M308.47 233.45V237.81M311.48 228.14V230.03M313.49 228.09V229.06M314.49 227.75V235.73M315.50 235.77V236.70M321.52 224.88V228.64M323.52 224.49V226.42M325.53 225.30V232.25M327.54 225.13V225.63M329.55 223.08V223.58M334.56 213.65V215.44M336.57 211.68V212.18M338.58 208.74V210.99M340.58 209.32V209.82M341.59 209.90V216.97M347.61 205.08V208.63M349.61 205.08V209.05M350.62 209.25V210.99M351.62 210.99V219.61M352.62 219.61V222.25M360.65 196.87V206.27M363.66 193.98V198.48M364.66 199.18V200.29M365.67 200.78V203.90M367.67 199.62V207.24M371.69 191.13V191.95M372.69 191.63V196.68M373.69 196.48V199.18M375.70 192.38V198.07M378.71 191.42V195.29M380.72 189.45V191.54M384.73 189.40V191.68M385.74 191.61V193.76M388.75 190.78V192.37M389.75 193.15V195.84M390.75 195.57V196.07M392.76 189.38V195.43M394.77 191.61V195.71M396.77 193.91V210.57M398.78 208.07V217.52M401.79 212.00V216.13M408.81 192.58V203.35M412.83 192.69V204.88M413.83 204.48V205.71M415.84 198.33V200.43M416.84 199.94V217.38M417.84 217.30V223.22M420.85 214.55V223.22M421.86 223.22V225.30M427.88 199.49V201.68M429.89 195.19V199.87M432.90 193.86V197.51M433.90 196.97V198.62M434.90 198.19V200.01M438.92 192.10V193.20M439.92 192.64V196.68M440.92 196.86V201.40M445.94 181.77V182.36M447.95 180.50V181.00M448.95 180.69V181.19M449.95 180.99V183.06M451.96 181.93V188.76M455.97 183.41V185.28M456.98 185.34V188.06M458.98 187.62V189.04M459.99 189.53V194.73M464.00 177.26V179.86M466.01 168.92V170.69M468.01 171.21V173.33M471.02 168.47V168.97M473.03 164.81V165.31M478.05 153.43V154.85M480.06 153.58V158.74M482.06 156.88V157.38M483.07 156.94V160.83M487.08 150.33V152.21M488.08 152.18V153.46M491.09 145.95V146.51M492.10 146.05V146.55M494.10 144.97V147.76M498.12 140.32V140.95M500.12 140.62V145.26M501.13 144.52V147.35M504.14 140.89V142.48M506.14 136.45V136.95M509.15 129.38V129.88M513.17 124.84V125.67M514.17 125.32V126.09M520.19 112.54V113.04M525.21 86.07V100.66M526.21 100.66V120.39M529.22 102.78V110.52M531.23 95.38V102.05M532.23 101.44V124.84M534.24 117.47V122.61M537.25 111.88V113.44M538.25 114.10V114.60M540.26 106.43V107.47M544.27 97.74V98.24M545.28 96.70V101.63M546.28 100.76V106.77M552.30 89.57V90.79M556.31 82.78V85.37M559.32 78.82V79.53M560.33 79.51V83.43M561.33 84.45V99.96M563.34 99.82V115.11M566.35 98.06V104.27M567.35 105.13V118.58M569.36 102.79V118.58M570.36 118.67V123.17M571.36 123.71V148.60M576.38 112.96V114.14M578.39 106.99V108.16M582.40 95.73V103.30M584.41 90.76V95.24M590.43 74.63V75.13M591.43 74.68V84.12M592.44 83.53V87.04M593.44 85.74V91.76M594.44 92.33V102.05M598.46 74.60V75.64M601.47 65.14V70.78M603.47 64.25V77.03M604.48 77.03V78.84M605.48 77.47V83.01M606.48 82.70V88.84M610.50 67.53V68.70M611.50 68.08V72.86M612.50 73.36V74.25M619.53 50.58V52.30M625.55 34.23V34.93M628.56 22.65V26.59M629.56 27.87V36.18M632.57 14.73V20.65M633.58 31.79V73.95M634.58 71.04V71.54M635.58 86.50V107.74M636.59 135.87V164.17" stroke="#9a4a3b" stroke-width="1.50" fill="none"/>
<polyline points="-2.58,300.85 -1.58,300.74 -0.57,300.73 0.43,300.72 1.43,300.62 2.44,300.61 3.44,300.58 4.44,300.54 5.45,300.53 6.45,300.57 7.45,300.62 8.46,300.61 9.46,300.62 10.46,300.56 11.47,300.54 12.47,300.45 13.47,300.35 14.48,300.23 15.48,300.14 16.48,300.01 17.49,299.94 18.49,299.84 19.49,299.80 20.50,299.76 21.50,299.77 22.50,299.84 23.51,299.94 24.51,300.06 25.52,300.15 26.52,300.25 27.52,300.34 28.53,300.38 29.53,300.41 30.53,300.46 31.54,300.52 32.54,300.63 33.54,300.73 34.55,300.82 35.55,300.97 36.55,301.28 37.56,301.86 38.56,302.38 39.56,302.97 40.57,303.44 41.57,303.96 42.57,304.55 43.58,305.23 44.58,305.77 45.58,306.34 46.59,306.90 47.59,307.44 48.59,307.99 49.60,308.46 50.60,308.98 51.60,309.55 52.61,310.15 53.61,310.74 54.61,311.27 55.62,311.85 56.62,312.50 57.62,313.19 58.63,313.95 59.63,314.61 60.63,315.23 61.64,315.79 62.64,316.30 63.64,316.79 64.65,317.26 65.65,317.72 66.65,318.17 67.66,318.54 68.66,318.97 69.66,319.39 70.67,319.76 71.67,320.10 72.67,320.43 73.68,320.78 74.68,321.14 75.69,321.53 76.69,321.94 77.69,322.25 78.70,322.51 79.70,322.76 80.70,322.97 81.71,323.19 82.71,323.38 83.71,323.56 84.72,323.76 85.72,323.91 86.72,324.03 87.73,324.19 88.73,324.37 89.73,324.48 90.74,324.57 91.74,324.67 92.74,324.82 93.75,324.93 94.75,325.01 95.75,325.09 96.76,325.16 97.76,325.22 98.76,325.28 99.77,325.34 100.77,325.36 101.77,325.41 102.78,325.40 103.78,325.42 104.78,325.49 105.79,325.59 106.79,325.69 107.79,325.79 108.80,325.83 109.80,325.88 110.80,325.89 111.81,325.87 112.81,325.85 113.81,325.81 114.82,325.76 115.82,325.69 116.82,325.62 117.83,325.52 118.83,325.46 119.83,325.51 120.84,325.52 121.84,325.60 122.84,325.67 123.85,325.78 124.85,325.85 125.86,325.88 126.86,325.97 127.86,326.14 128.87,326.22 129.87,326.32 130.87,326.37 131.88,326.42 132.88,326.44 133.88,326.53 134.89,326.62 135.89,326.71 136.89,326.76 137.90,326.79 138.90,326.80 139.90,326.79 140.91,326.77 141.91,326.73 142.91,326.67 143.92,326.61 144.92,326.54 145.92,326.42 146.93,326.33 147.93,326.25 148.93,326.18 149.94,326.06 150.94,325.92 151.94,325.78 152.95,325.62 153.95,325.46 154.95,325.29 155.96,325.08 156.96,324.89 157.96,324.72 158.97,324.50 159.97,324.25 160.97,323.99 161.98,323.76 162.98,323.53 163.98,323.33 164.99,323.17 165.99,322.95 166.99,322.72 168.00,322.49 169.00,322.28 170.00,322.05 171.01,321.78 172.01,321.54 173.01,321.31 174.02,321.09 175.02,320.88 176.03,320.71 177.03,320.58 178.03,320.45 179.04,320.33 180.04,320.11 181.04,319.89 182.05,319.71 183.05,319.49 184.05,319.34 185.06,319.33 186.06,319.34 187.06,319.43 188.07,319.44 189.07,319.46 190.07,319.51 191.08,319.47 192.08,319.54 193.08,319.62 194.09,319.66 195.09,319.61 196.09,319.54 197.10,319.40 198.10,319.31 199.10,319.21 200.11,319.17 201.11,319.21 202.11,319.14 203.12,319.05 204.12,319.01 205.12,318.91 206.13,318.81 207.13,318.69 208.13,318.56 209.14,318.39 210.14,318.23 211.14,318.02 212.15,317.82 213.15,317.60 214.15,317.37 215.16,317.14 216.16,316.91 217.16,316.63 218.17,316.37 219.17,316.10 220.17,315.84 221.18,315.62 222.18,315.40 223.18,315.14 224.19,314.93 225.19,314.75 226.19,314.64 227.20,314.51 228.20,314.44 229.21,314.29 230.21,314.13 231.21,313.98 232.22,313.79 233.22,313.62 234.22,313.44 235.23,313.26 236.23,313.05 237.23,312.83 238.24,312.59 239.24,312.34 240.24,312.11 241.25,311.88 242.25,311.60 243.25,311.30 244.26,311.00 245.26,310.74 246.26,310.44 247.27,310.20 248.27,309.95 249.27,309.74 250.28,309.52 251.28,309.35 252.28,309.22 253.29,309.01 254.29,308.80 255.29,308.59 256.30,308.38 257.30,308.16 258.30,307.97 259.31,307.70 260.31,307.43 261.31,307.13 262.32,306.82 263.32,306.50 264.32,306.17 265.33,305.84 266.33,305.52 267.33,305.20 268.34,304.84 269.34,304.47 270.34,304.11 271.35,303.74 272.35,303.39 273.35,302.99 274.36,302.65 275.36,302.27 276.37,301.85 277.37,301.41 278.37,300.93 279.38,300.47 280.38,300.05 281.38,299.61 282.39,299.20 283.39,298.84 284.39,298.47 285.40,298.06 286.40,297.59 287.40,297.11 288.41,296.64 289.41,296.15 290.41,295.68 291.42,295.27 292.42,294.85 293.42,294.48 294.43,294.08 295.43,293.64 296.43,293.18 297.44,292.74 298.44,292.31 299.44,291.87 300.45,291.37 301.45,290.86 302.45,290.35 303.46,289.83 304.46,289.28 305.46,288.73 306.47,288.18 307.47,287.64 308.47,287.14 309.48,286.59 310.48,286.01 311.48,285.46 312.49,284.89 313.49,284.34 314.49,283.85 315.50,283.38 316.50,282.90 317.50,282.36 318.51,281.84 319.51,281.28 320.51,280.71 321.52,280.19 322.52,279.64 323.52,279.11 324.53,278.58 325.53,278.11 326.54,277.59 327.54,277.07 328.54,276.54 329.55,276.01 330.55,275.49 331.55,274.94 332.56,274.36 333.56,273.76 334.56,273.18 335.57,272.57 336.57,271.96 337.57,271.33 338.58,270.73 339.58,270.12 340.58,269.52 341.59,269.00 342.59,268.47 343.59,267.92 344.60,267.32 345.60,266.72 346.60,266.11 347.61,265.53 348.61,264.93 349.61,264.38 350.62,263.85 351.62,263.41 352.62,263.00 353.63,262.48 354.63,261.90 355.63,261.31 356.64,260.71 357.64,260.08 358.64,259.45 359.65,258.82 360.65,258.30 361.65,257.69 362.66,257.05 363.66,256.47 364.66,255.91 365.67,255.39 366.67,254.84 367.67,254.36 368.68,253.81 369.68,253.21 370.68,252.59 371.69,251.99 372.69,251.44 373.69,250.92 374.70,250.33 375.70,249.81 376.71,249.28 377.71,248.72 378.71,248.19 379.72,247.61 380.72,247.05 381.72,246.49 382.73,245.92 383.73,245.35 384.73,244.82 385.74,244.31 386.74,243.81 387.74,243.28 388.75,242.78 389.75,242.31 390.75,241.85 391.76,241.32 392.76,240.86 393.76,240.38 394.77,239.93 395.77,239.48 396.77,239.19 397.78,238.88 398.78,238.67 399.78,238.40 400.79,238.14 401.79,237.92 402.79,237.68 403.80,237.35 404.80,236.99 405.80,236.59 406.81,236.18 407.81,235.75 408.81,235.42 409.82,235.01 410.82,234.61 411.82,234.20 412.83,233.91 413.83,233.63 414.83,233.27 415.84,232.95 416.84,232.79 417.84,232.70 418.85,232.57 419.85,232.39 420.85,232.30 421.86,232.23 422.86,232.09 423.86,231.90 424.87,231.65 425.87,231.37 426.88,231.06 427.88,230.76 428.88,230.42 429.89,230.12 430.89,229.77 431.89,229.41 432.90,229.09 433.90,228.79 434.90,228.51 435.91,228.21 436.91,227.86 437.91,227.51 438.92,227.17 439.92,226.87 440.92,226.62 441.93,226.27 442.93,225.90 443.93,225.48 444.94,225.05 445.94,224.63 446.94,224.19 447.95,223.76 448.95,223.34 449.95,222.94 450.96,222.52 451.96,222.19 452.96,221.84 453.97,221.46 454.97,221.08 455.97,220.72 456.98,220.40 457.98,220.06 458.98,219.76 459.99,219.51 460.99,219.15 461.99,218.77 463.00,218.36 464.00,217.98 465.00,217.50 466.01,217.04 467.01,216.57 468.01,216.14 469.02,215.66 470.02,215.19 471.02,214.73 472.03,214.24 473.03,213.75 474.03,213.24 475.04,212.69 476.04,212.12 477.05,211.54 478.05,210.97 479.05,210.40 480.06,209.89 481.06,209.36 482.06,208.84 483.07,208.36 484.07,207.86 485.07,207.31 486.08,206.76 487.08,206.21 488.08,205.69 489.09,205.12 490.09,204.53 491.09,203.95 492.10,203.38 493.10,202.80 494.10,202.26 495.11,201.71 496.11,201.12 497.11,200.52 498.12,199.93 499.12,199.34 500.12,198.80 501.13,198.29 502.13,197.76 503.13,197.19 504.14,196.64 505.14,196.05 506.14,195.46 507.15,194.85 508.15,194.21 509.15,193.57 510.16,192.90 511.16,192.23 512.16,191.56 513.17,190.91 514.17,190.26 515.17,189.59 516.18,188.87 517.18,188.15 518.18,187.40 519.19,186.64 520.19,185.91 521.19,185.09 522.20,184.21 523.20,183.32 524.20,182.34 525.21,181.53 526.21,180.92 527.22,180.16 528.22,179.39 529.22,178.71 530.23,177.90 531.23,177.14 532.23,176.62 533.24,176.03 534.24,175.50 535.24,174.90 536.25,174.29 537.25,173.69 538.25,173.10 539.26,172.42 540.26,171.78 541.26,171.12 542.27,170.46 543.27,169.74 544.27,169.03 545.28,168.36 546.28,167.75 547.28,167.08 548.29,166.37 549.29,165.66 550.29,164.93 551.30,164.19 552.30,163.45 553.30,162.71 554.31,161.93 555.31,161.13 556.31,160.38 557.32,159.59 558.32,158.77 559.32,157.98 560.33,157.24 561.33,156.67 562.33,156.10 563.34,155.69 564.34,155.20 565.34,154.63 566.35,154.13 567.35,153.78 568.35,153.25 569.36,152.91 570.36,152.61 571.36,152.57 572.37,152.43 573.37,152.24 574.37,151.95 575.38,151.57 576.38,151.20 577.39,150.77 578.39,150.35 579.39,149.83 580.40,149.30 581.40,148.76 582.40,148.31 583.41,147.75 584.41,147.23 585.41,146.66 586.42,146.02 587.42,145.37 588.42,144.73 589.43,144.04 590.43,143.36 591.43,142.77 592.44,142.21 593.44,141.71 594.44,141.32 595.45,140.76 596.45,140.19 597.45,139.53 598.46,138.90 599.46,138.20 600.46,137.48 601.47,136.82 602.47,136.09 603.47,135.50 604.48,134.94 605.48,134.42 606.48,133.97 607.49,133.41 608.49,132.79 609.49,132.13 610.50,131.50 611.50,130.91 612.50,130.35 613.51,129.77 614.51,129.17 615.51,128.52 616.52,127.82 617.52,127.10 618.52,126.34 619.53,125.60 620.53,124.83 621.53,124.06 622.54,123.26 623.54,122.40 624.54,121.52 625.55,120.66 626.55,119.77 627.56,118.79 628.56,117.88 629.56,117.06 630.57,116.12 631.57,115.11 632.57,114.17 633.58,113.77 634.58,113.35 635.58,113.29 636.59,113.80" stroke="#82c282" stroke-width="0.90" fill="none" stroke-linejoin="round"/>
<polyline points="-2.58,281.03 -1.58,281.37 -0.57,282.12 0.43,282.80 1.43,283.11 2.44,283.75 3.44,284.27 4.44,284.75 5.45,285.34 6.45,286.10 7.45,286.86 8.46,287.37 9.46,287.93 10.46,288.17 11.47,288.61 12.47,288.72 13.47,288.78 14.48,288.75 15.48,288.86 16.48,288.77 17.49,288.95 18.49,288.99 19.49,289.24 20.50,289.49 21.50,289.96 22.50,290.62 23.51,291.34 24.51,292.17 25.52,292.84 26.52,293.51 27.52,294.13 28.53,294.53 29.53,294.91 30.53,295.30 31.54,295.73 32.54,296.36 33.54,296.92 34.55,297.44 35.55,298.16 36.55,299.48 37.56,301.83 38.56,303.87 39.56,306.17 40.57,307.89 41.57,309.74 42.57,311.84 43.58,314.25 44.58,316.04 45.58,317.87 46.59,319.61 47.59,321.25 48.59,322.89 49.60,324.16 50.60,325.59 51.60,327.19 52.61,328.83 53.61,330.43 54.61,331.74 55.62,333.23 56.62,334.96 57.62,336.82 58.63,338.89 59.63,340.48 60.63,341.94 61.64,343.08 62.64,344.03 63.64,344.87 64.65,345.60 65.65,346.33 66.65,346.97 67.66,347.29 68.66,347.86 69.66,348.38 70.67,348.71 71.67,348.91 72.67,349.07 73.68,349.36 74.68,349.66 75.69,350.06 76.69,350.54 77.69,350.67 78.70,350.58 79.70,350.45 80.70,350.21 81.71,350.00 82.71,349.68 83.71,349.37 84.72,349.13 85.72,348.76 86.72,348.26 87.73,347.91 88.73,347.68 89.73,347.21 90.74,346.67 91.74,346.19 92.74,345.97 93.75,345.57 94.75,345.06 95.75,344.58 96.76,344.12 97.76,343.61 98.76,343.10 99.77,342.64 100.77,342.07 101.77,341.58 102.78,340.94 103.78,340.38 104.78,340.08 105.79,339.89 106.79,339.75 107.79,339.56 108.80,339.20 109.80,338.88 110.80,338.39 111.81,337.85 112.81,337.28 113.81,336.69 114.82,336.06 115.82,335.38 116.82,334.73 117.83,333.97 118.83,333.40 119.83,333.27 120.84,333.01 121.84,333.03 122.84,333.03 123.85,333.16 124.85,333.15 125.86,332.99 126.86,333.07 127.86,333.44 128.87,333.49 129.87,333.60 130.87,333.51 131.88,333.43 132.88,333.24 133.88,333.29 134.89,333.39 135.89,333.51 136.89,333.41 137.90,333.28 138.90,333.08 139.90,332.76 140.91,332.47 141.91,332.07 142.91,331.64 143.92,331.19 144.92,330.75 145.92,330.10 146.93,329.62 147.93,329.16 148.93,328.77 149.94,328.21 150.94,327.58 151.94,326.95 152.95,326.28 153.95,325.63 154.95,324.93 155.96,324.14 156.96,323.44 157.96,322.80 158.97,322.00 159.97,321.13 160.97,320.21 161.98,319.46 162.98,318.73 163.98,318.13 164.99,317.68 165.99,317.07 166.99,316.37 168.00,315.73 169.00,315.16 170.00,314.51 171.01,313.74 172.01,313.13 173.01,312.56 174.02,312.04 175.02,311.55 176.03,311.24 177.03,311.11 178.03,310.98 179.04,310.88 180.04,310.38 181.04,309.88 182.05,309.56 183.05,309.09 184.05,308.93 185.06,309.28 186.06,309.72 187.06,310.45 188.07,310.86 189.07,311.27 190.07,311.77 191.08,311.92 192.08,312.49 193.08,313.07 194.09,313.50 195.09,313.54 196.09,313.49 197.10,313.20 198.10,313.08 199.10,312.92 200.11,313.02 201.11,313.43 202.11,313.36 203.12,313.23 204.12,313.30 205.12,313.12 206.13,312.98 207.13,312.74 208.13,312.45 209.14,312.03 210.14,311.62 211.14,311.07 212.15,310.55 213.15,309.96 214.15,309.36 215.16,308.76 216.16,308.18 217.16,307.44 218.17,306.77 219.17,306.06 220.17,305.44 221.18,305.00 222.18,304.52 223.18,303.93 224.19,303.55 225.19,303.27 226.19,303.32 227.20,303.24 228.20,303.38 229.21,303.27 230.21,303.05 231.21,302.89 232.22,302.59 233.22,302.34 234.22,302.10 235.23,301.82 236.23,301.43 237.23,301.03 238.24,300.56 239.24,300.04 240.24,299.59 241.25,299.17 242.25,298.60 243.25,297.90 244.26,297.26 245.26,296.75 246.26,296.15 247.27,295.75 248.27,295.34 249.27,295.07 250.28,294.79 251.28,294.71 252.28,294.74 253.29,294.50 254.29,294.24 255.29,293.97 256.30,293.74 257.30,293.43 258.30,293.28 259.31,292.79 260.31,292.28 261.31,291.72 262.32,291.09 263.32,290.43 264.32,289.76 265.33,289.12 266.33,288.52 267.33,287.93 268.34,287.18 269.34,286.41 270.34,285.70 271.35,284.94 272.35,284.31 273.35,283.50 274.36,282.91 275.36,282.19 276.37,281.33 277.37,280.40 278.37,279.31 279.38,278.37 280.38,277.56 281.38,276.72 282.39,276.01 283.39,275.50 284.39,274.95 285.40,274.27 286.40,273.36 287.40,272.41 288.41,271.52 289.41,270.55 290.41,269.72 291.42,269.12 292.42,268.50 293.42,268.07 294.43,267.54 295.43,266.85 296.43,266.06 297.44,265.41 298.44,264.78 299.44,264.11 300.45,263.24 301.45,262.33 302.45,261.44 303.46,260.54 304.46,259.52 305.46,258.51 306.47,257.53 307.47,256.59 308.47,255.86 309.48,254.91 310.48,253.88 311.48,252.94 312.49,251.99 313.49,251.09 314.49,250.48 315.50,249.94 316.50,249.35 317.50,248.55 318.51,247.80 319.51,246.95 320.51,246.03 321.52,245.35 322.52,244.56 323.52,243.84 324.53,243.12 325.53,242.69 326.54,242.01 327.54,241.37 328.54,240.65 329.55,239.98 330.55,239.33 331.55,238.59 332.56,237.75 333.56,236.80 334.56,235.97 335.57,235.01 336.57,234.11 337.57,233.11 338.58,232.24 339.58,231.36 340.58,230.50 341.59,229.97 342.59,229.43 343.59,228.78 344.60,227.97 345.60,227.11 346.60,226.26 347.61,225.57 348.61,224.77 349.61,224.15 350.62,223.64 351.62,223.48 352.62,223.43 353.63,222.96 354.63,222.22 355.63,221.43 356.64,220.63 357.64,219.73 358.64,218.84 359.65,217.95 360.65,217.49 361.65,216.67 362.66,215.79 363.66,215.11 364.66,214.53 365.67,214.11 366.67,213.54 367.67,213.29 368.68,212.73 369.68,211.96 370.68,211.15 371.69,210.39 372.69,209.86 373.69,209.44 374.70,208.73 375.70,208.32 376.71,207.88 377.71,207.27 378.71,206.80 379.72,206.16 380.72,205.58 381.72,204.99 382.73,204.38 383.73,203.78 384.73,203.30 385.74,202.93 386.74,202.56 387.74,202.11 388.75,201.73 389.75,201.50 390.75,201.28 391.76,200.79 392.76,200.58 393.76,200.25 394.77,200.07 395.77,199.82 396.77,200.25 397.78,200.55 398.78,201.22 399.78,201.63 400.79,202.06 401.79,202.61 402.79,203.03 403.80,203.09 404.80,203.04 405.80,202.77 406.81,202.49 407.81,202.11 408.81,202.16 409.82,201.84 410.82,201.54 411.82,201.23 412.83,201.37 413.83,201.54 414.83,201.41 415.84,201.37 416.84,202.00 417.84,202.83 418.85,203.48 419.85,203.93 420.85,204.69 421.86,205.49 422.86,205.98 423.86,206.29 424.87,206.30 425.87,206.19 426.88,205.93 427.88,205.76 428.88,205.40 429.89,205.18 430.89,204.79 431.89,204.36 432.90,204.09 433.90,203.88 434.90,203.72 435.91,203.55 436.91,203.13 437.91,202.72 438.92,202.35 439.92,202.13 440.92,202.10 441.93,201.71 442.93,201.19 443.93,200.52 444.94,199.80 445.94,199.12 446.94,198.41 447.95,197.73 448.95,197.07 449.95,196.52 450.96,195.93 451.96,195.65 452.96,195.32 453.97,194.86 454.97,194.41 455.97,194.05 456.98,193.81 457.98,193.54 458.98,193.37 459.99,193.42 460.99,193.04 461.99,192.58 463.00,191.97 464.00,191.49 465.00,190.67 466.01,189.88 467.01,189.10 468.01,188.48 469.02,187.68 470.02,186.92 471.02,186.21 472.03,185.40 473.03,184.61 474.03,183.75 475.04,182.73 476.04,181.67 477.05,180.55 478.05,179.55 479.05,178.54 480.06,177.77 481.06,176.92 482.06,176.15 483.07,175.55 484.07,174.86 485.07,174.01 486.08,173.11 487.08,172.29 488.08,171.55 489.09,170.66 490.09,169.67 491.09,168.76 492.10,167.89 493.10,167.02 494.10,166.26 495.11,165.52 496.11,164.63 497.11,163.70 498.12,162.81 499.12,161.92 500.12,161.27 501.13,160.72 502.13,160.11 503.13,159.33 504.14,158.67 505.14,157.82 506.14,156.99 507.15,156.11 508.15,155.10 509.15,154.10 510.16,153.02 511.16,151.96 512.16,150.89 513.17,149.90 514.17,148.97 515.17,147.95 516.18,146.75 517.18,145.54 518.18,144.25 519.19,142.97 520.19,141.79 521.19,140.28 522.20,138.60 523.20,136.85 524.20,134.82 525.21,133.48 526.21,132.97 527.22,131.87 528.22,130.73 529.22,129.93 530.23,128.65 531.23,127.61 532.23,127.50 533.24,127.11 534.24,126.93 535.24,126.48 536.25,125.97 537.25,125.48 538.25,125.04 539.26,124.27 540.26,123.61 541.26,122.94 542.27,122.21 543.27,121.27 544.27,120.36 545.28,119.63 546.28,119.13 547.28,118.41 548.29,117.50 549.29,116.63 550.29,115.69 551.30,114.67 552.30,113.74 553.30,112.74 554.31,111.65 555.31,110.46 556.31,109.48 557.32,108.35 558.32,107.13 559.32,106.05 560.33,105.16 561.33,104.96 562.33,104.76 563.34,105.16 564.34,105.20 565.34,104.92 566.35,104.89 567.35,105.43 568.35,105.25 569.36,105.78 570.36,106.46 571.36,108.11 572.37,109.32 573.37,110.24 574.37,110.77 575.38,110.86 576.38,110.99 577.39,110.89 578.39,110.78 579.39,110.31 580.40,109.76 581.40,109.17 582.40,108.94 583.41,108.29 584.41,107.78 585.41,107.11 586.42,106.14 587.42,105.14 588.42,104.18 589.43,103.07 590.43,101.98 591.43,101.27 592.44,100.72 593.44,100.37 594.44,100.43 595.45,99.84 596.45,99.19 597.45,98.22 598.46,97.33 599.46,96.22 600.46,95.02 601.47,94.07 602.47,92.89 603.47,92.27 604.48,91.74 605.48,91.40 606.48,91.30 607.49,90.77 608.49,89.98 609.49,89.06 610.50,88.26 611.50,87.66 612.50,87.13 613.51,86.53 614.51,85.86 615.51,85.02 616.52,83.97 617.52,82.82 618.52,81.57 619.53,80.42 620.53,79.15 621.53,77.90 622.54,76.58 623.54,75.02 624.54,73.42 625.55,71.91 626.55,70.30 627.56,68.39 628.56,66.75 629.56,65.55 630.57,63.85 631.57,61.92 632.57,60.30 633.58,60.84 634.58,61.25 635.58,63.08 636.59,67.04" stroke="#ec7676" stroke-width="0.90" fill="none" stroke-linejoin="round"/>
<polyline points="-2.58,278.08 -1.58,279.19 -0.57,281.21 0.43,282.96 1.43,283.69 2.44,285.20 3.44,286.32 4.44,287.29 5.45,288.46 6.45,290.02 7.45,291.49 8.46,292.28 9.46,293.18 10.46,293.27 11.47,293.85 12.47,293.61 13.47,293.30 14.48,292.80 15.48,292.69 16.48,292.09 17.49,292.22 18.49,292.00 19.49,292.33 20.50,292.63 21.50,293.47 22.50,294.75 23.51,296.11 24.51,297.65 25.52,298.77 26.52,299.82 27.52,300.73 28.53,301.08 29.53,301.36 30.53,301.70 31.54,302.14 32.54,303.07 33.54,303.79 34.55,304.39 35.55,305.48 36.55,307.99 37.56,312.89 38.56,316.79 39.56,321.15 40.57,323.88 41.57,326.87 42.57,330.32 43.58,334.42 44.58,336.85 45.58,339.31 46.59,341.51 47.59,343.38 48.59,345.28 49.60,346.21 50.60,347.60 51.60,349.39 52.61,351.25 53.61,353.01 54.61,354.03 55.62,355.52 56.62,357.61 57.62,359.96 58.63,362.78 59.63,364.36 60.63,365.64 61.64,366.16 62.64,366.27 63.64,366.18 64.65,365.93 65.65,365.76 66.65,365.46 67.66,364.49 68.66,364.23 69.66,363.94 70.67,363.25 71.67,362.36 72.67,361.47 73.68,360.99 74.68,360.60 75.69,360.54 76.69,360.71 77.69,360.06 78.70,358.95 79.70,357.84 80.70,356.53 81.71,355.43 82.71,354.14 83.71,352.95 84.72,352.03 85.72,350.85 86.72,349.44 87.73,348.48 88.73,347.87 89.73,346.70 90.74,345.44 91.74,344.40 92.74,344.03 93.75,343.26 94.75,342.24 95.75,341.35 96.76,340.54 97.76,339.62 98.76,338.78 99.77,338.07 100.77,337.11 101.77,336.39 102.78,335.34 103.78,334.50 104.78,334.33 105.79,334.42 106.79,334.60 107.79,334.65 108.80,334.24 109.80,333.94 110.80,333.20 111.81,332.38 112.81,331.52 113.81,330.64 114.82,329.70 115.82,328.64 116.82,327.70 117.83,326.53 118.83,325.86 119.83,326.26 120.84,326.29 121.84,326.97 122.84,327.56 123.85,328.41 124.85,328.82 125.86,328.86 126.86,329.44 127.86,330.68 128.87,331.06 129.87,331.57 130.87,331.55 131.88,331.53 132.88,331.26 133.88,331.57 134.89,331.96 135.89,332.39 136.89,332.26 137.90,332.07 138.90,331.69 139.90,331.05 140.91,330.49 141.91,329.73 142.91,328.90 143.92,328.06 144.92,327.30 145.92,326.05 146.93,325.27 147.93,324.57 148.93,324.06 149.94,323.14 150.94,322.09 151.94,321.09 152.95,320.03 153.95,319.04 154.95,317.96 155.96,316.71 156.96,315.70 157.96,314.89 158.97,313.70 159.97,312.38 160.97,310.99 161.98,310.04 162.98,309.17 163.98,308.61 164.99,308.43 165.99,307.82 166.99,307.02 168.00,306.34 169.00,305.85 170.00,305.16 171.01,304.19 172.01,303.62 173.01,303.14 174.02,302.77 175.02,302.46 176.03,302.59 177.03,303.09 178.03,303.54 179.04,303.99 180.04,303.44 181.04,302.90 182.05,302.77 183.05,302.28 184.05,302.53 185.06,303.99 186.06,305.57 187.06,307.74 188.07,308.99 189.07,310.16 190.07,311.49 191.08,311.87 192.08,313.28 193.08,314.61 194.09,315.50 195.09,315.40 196.09,315.11 197.10,314.24 198.10,313.87 199.10,313.40 200.11,313.60 201.11,314.53 202.11,314.25 203.12,313.85 204.12,313.97 205.12,313.47 206.13,313.10 207.13,312.51 208.13,311.83 209.14,310.87 210.14,309.98 211.14,308.80 212.15,307.76 213.15,306.57 214.15,305.44 215.16,304.36 216.16,303.37 217.16,302.03 218.17,300.92 219.17,299.76 220.17,298.85 221.18,298.40 222.18,297.87 223.18,297.07 224.19,296.80 225.19,296.77 226.19,297.51 227.20,297.87 228.20,298.73 229.21,298.88 230.21,298.78 231.21,298.80 232.22,298.46 233.22,298.25 234.22,298.04 235.23,297.76 236.23,297.20 237.23,296.62 238.24,295.90 239.24,295.10 240.24,294.46 241.25,293.93 242.25,293.05 243.25,291.88 244.26,290.90 245.26,290.26 246.26,289.42 247.27,289.08 248.27,288.73 249.27,288.70 250.28,288.63 251.28,289.01 252.28,289.64 253.29,289.55 254.29,289.37 255.29,289.19 256.30,289.09 257.30,288.77 258.30,288.85 259.31,288.08 260.31,287.30 261.31,286.41 262.32,285.38 263.32,284.32 264.32,283.29 265.33,282.34 266.33,281.52 267.33,280.76 268.34,279.63 269.34,278.48 270.34,277.51 271.35,276.45 272.35,275.71 273.35,274.58 274.36,273.99 275.36,273.10 276.37,271.87 277.37,270.50 278.37,268.82 279.38,267.52 280.38,266.59 281.38,265.60 282.39,264.93 283.39,264.75 284.39,264.42 285.40,263.78 286.40,262.56 287.40,261.31 288.41,260.18 289.41,258.91 290.41,258.01 291.42,257.68 292.42,257.25 293.42,257.28 294.43,257.01 295.43,256.34 296.43,255.43 297.44,254.85 298.44,254.34 299.44,253.71 300.45,252.59 301.45,251.39 302.45,250.27 303.46,249.14 304.46,247.75 305.46,246.42 306.47,245.19 307.47,244.09 308.47,243.49 309.48,242.37 310.48,241.06 311.48,240.01 312.49,238.92 313.49,237.98 314.49,237.76 315.50,237.66 316.50,237.38 317.50,236.59 318.51,235.90 319.51,234.97 320.51,233.88 321.52,233.38 322.52,232.60 323.52,232.01 324.53,231.37 325.53,231.45 326.54,230.88 327.54,230.38 328.54,229.68 329.55,229.09 330.55,228.56 331.55,227.79 332.56,226.77 333.56,225.52 334.56,224.56 335.57,223.33 336.57,222.25 337.57,220.95 338.58,220.00 339.58,219.01 340.58,218.12 341.59,218.01 342.59,217.83 343.59,217.35 344.60,216.48 345.60,215.49 346.60,214.53 347.61,213.97 348.61,213.13 349.61,212.74 350.62,212.58 351.62,213.25 352.62,214.10 353.63,213.85 354.63,212.91 355.63,211.88 356.64,210.84 357.64,209.59 358.64,208.40 359.65,207.23 360.65,207.14 361.65,206.14 362.66,205.00 363.66,204.38 364.66,203.99 365.67,203.98 366.67,203.55 367.67,203.90 368.68,203.43 369.68,202.44 370.68,201.38 371.69,200.48 372.69,200.12 373.69,200.03 374.70,199.22 375.70,199.11 376.71,198.93 377.71,198.31 378.71,198.02 379.72,197.28 380.72,196.73 381.72,196.13 382.73,195.50 383.73,194.88 384.73,194.58 385.74,194.50 386.74,194.40 387.74,194.10 388.75,193.94 389.75,194.12 390.75,194.28 391.76,193.77 392.76,193.93 393.76,193.75 394.77,193.94 395.77,193.92 396.77,195.51 397.78,196.70 398.78,198.69 399.78,199.94 400.79,201.12 401.79,202.55 402.79,203.58 403.80,203.66 404.80,203.50 405.80,202.80 406.81,202.11 407.81,201.22 408.81,201.43 409.82,200.73 410.82,200.10 411.82,199.49 412.83,200.01 413.83,200.55 414.83,200.31 415.84,200.32 416.84,201.95 417.84,203.97 418.85,205.45 419.85,206.35 420.85,207.95 421.86,209.61 422.86,210.40 423.86,210.72 424.87,210.32 425.87,209.67 426.88,208.71 427.88,208.04 428.88,206.93 429.89,206.26 430.89,205.22 431.89,204.13 432.90,203.50 433.90,203.03 434.90,202.74 435.91,202.42 436.91,201.50 437.91,200.67 438.92,199.96 439.92,199.65 440.92,199.81 441.93,199.09 442.93,198.08 443.93,196.74 444.94,195.36 445.94,194.12 446.94,192.88 447.95,191.75 448.95,190.72 449.95,189.99 450.96,189.19 451.96,189.15 452.96,188.96 453.97,188.45 454.97,187.95 455.97,187.70 456.98,187.73 457.98,187.66 458.98,187.79 459.99,188.45 460.99,188.00 461.99,187.36 463.00,186.37 464.00,185.75 465.00,184.29 466.01,182.99 467.01,181.74 468.01,180.94 469.02,179.71 470.02,178.63 471.02,177.70 472.03,176.55 473.03,175.47 474.03,174.25 475.04,172.68 476.04,171.05 477.05,169.36 478.05,167.98 479.05,166.65 480.06,165.90 481.06,164.96 482.06,164.22 483.07,163.90 484.07,163.34 485.07,162.38 486.08,161.30 487.08,160.44 488.08,159.77 489.09,158.72 490.09,157.47 491.09,156.42 492.10,155.47 493.10,154.53 494.10,153.89 495.11,153.28 496.11,152.28 497.11,151.19 498.12,150.21 499.12,149.26 500.12,148.88 501.13,148.74 502.13,148.38 503.13,147.61 504.14,147.12 505.14,146.16 506.14,145.27 507.15,144.23 508.15,142.90 509.15,141.65 510.16,140.22 511.16,138.84 512.16,137.51 513.17,136.38 514.17,135.40 515.17,134.21 516.18,132.60 517.18,131.02 518.18,129.28 519.19,127.60 520.19,126.19 521.19,124.01 522.20,121.47 523.20,118.85 524.20,115.65 525.21,114.22 526.21,114.81 527.22,113.86 528.22,112.80 529.22,112.58 530.23,111.13 531.23,110.27 532.23,111.65 533.24,112.21 534.24,113.20 535.24,113.41 536.25,113.41 537.25,113.41 538.25,113.51 539.26,112.73 540.26,112.23 541.26,111.67 542.27,110.98 543.27,109.77 544.27,108.67 545.28,108.00 546.28,107.88 547.28,107.22 548.29,106.08 549.29,105.03 550.29,103.86 551.30,102.52 552.30,101.41 553.30,100.17 554.31,98.72 555.31,97.05 556.31,95.94 557.32,94.50 558.32,92.86 559.32,91.59 560.33,90.81 561.33,91.68 562.33,92.46 563.34,94.62 564.34,95.71 565.34,95.93 566.35,96.72 567.35,98.80 568.35,99.01 569.36,100.87 570.36,102.99 571.36,107.34 572.37,110.35 573.37,112.47 574.37,113.55 575.38,113.52 576.38,113.58 577.39,113.08 578.39,112.61 579.39,111.29 580.40,109.86 581.40,108.43 582.40,107.94 583.41,106.45 584.41,105.39 585.41,103.98 586.42,101.93 587.42,99.89 588.42,98.07 589.43,95.96 590.43,93.97 591.43,93.04 592.44,92.46 593.44,92.40 594.44,93.32 595.45,92.55 596.45,91.66 597.45,90.03 598.46,88.66 599.46,86.79 600.46,84.77 601.47,83.44 602.47,81.59 603.47,81.15 604.48,80.93 605.48,81.13 606.48,81.86 607.49,81.48 608.49,80.44 609.49,79.12 610.50,78.13 611.50,77.63 612.50,77.31 613.51,76.78 614.51,76.09 615.51,74.97 616.52,73.38 617.52,71.60 618.52,69.63 619.53,67.98 620.53,66.07 621.53,64.29 622.54,62.36 623.54,59.94 624.54,57.49 625.55,55.34 626.55,53.00 627.56,50.02 628.56,47.79 629.56,46.68 630.57,44.33 631.57,41.52 632.57,39.53 633.58,42.81 634.58,45.53 635.58,51.46 636.59,62.19" stroke="#6ea6ee" stroke-width="0.90" fill="none" stroke-linejoin="round"/>
<rect x="681.50" y="0" width="23.50" height="424" fill="#fff"/>
<rect x="0" y="411.50" width="705" height="12.50" fill="#fff"/>
<rect x="0" y="0" width="0.9" height="424" fill="#f0f1f5"/>
<rect x="704.1" y="0" width="0.9" height="424" fill="#f1f2f6"/>
<rect x="0" y="421.9" width="705" height="1.2" fill="#eceef3"/>
<rect x="0" y="423.1" width="705" height="0.9" fill="#f6f7f9"/>
<rect x="238.5" y="1" width="128.5" height="1.1" fill="#f1f2f4"/>
<rect x="239.2" y="0" width="127" height="1.05" fill="#d9dce1"/>
<path d="M681.50 0V422M0.9 411.50H704.1" stroke="#ababab" stroke-width="1.00" fill="none"/>
<path d="M681.50 401.09H683.50M681.50 387.19H683.50M681.50 373.30H683.50M681.50 359.40H683.50M681.50 345.50H683.50M681.50 331.61H683.50M681.50 317.71H683.50M681.50 303.82H683.50M681.50 289.92H683.50M681.50 276.02H683.50M681.50 262.13H683.50M681.50 248.23H683.50M681.50 234.34H683.50M681.50 220.44H683.50M681.50 206.54H683.50M681.50 192.65H683.50M681.50 178.75H683.50M681.50 164.86H683.50M681.50 150.96H683.50M681.50 137.06H683.50M681.50 123.17H683.50M681.50 109.27H683.50M681.50 95.38H683.50M681.50 81.48H683.50M681.50 67.58H683.50M681.50 53.69H683.50M681.50 39.79H683.50M681.50 25.90H683.50M681.50 12.00H683.50M50.60 411.50V413.30M102.78 411.50V413.30M154.95 411.50V413.30M207.13 411.50V413.30M260.31 411.50V413.30M312.49 411.50V413.30M364.66 411.50V413.30M416.84 411.50V413.30M469.02 411.50V413.30M521.19 411.50V413.30M574.37 411.50V413.30M626.55 411.50V413.30M678.73 411.50V413.30" stroke="#ababab" stroke-width="0.8" fill="none"/>
<g font-family="Liberation Sans, sans-serif" fill="#62656d">
<text x="685.00" y="403.49" textLength="13.20" lengthAdjust="spacing" fill="#62656d" font-size="4.80">600.00</text>
<text x="685.00" y="389.59" textLength="13.20" lengthAdjust="spacing" fill="#62656d" font-size="4.80">700.00</text>
<text x="685.00" y="375.70" textLength="13.20" lengthAdjust="spacing" fill="#62656d" font-size="4.80">800.00</text>
<text x="685.00" y="361.80" textLength="13.20" lengthAdjust="spacing" fill="#62656d" font-size="4.80">900.00</text>
<text x="685.00" y="347.90" textLength="15.80" lengthAdjust="spacing" fill="#62656d" font-size="4.80">1000.00</text>
<text x="685.00" y="334.01" textLength="15.80" lengthAdjust="spacing" fill="#62656d" font-size="4.80">1100.00</text>
<text x="685.00" y="320.11" textLength="15.80" lengthAdjust="spacing" fill="#62656d" font-size="4.80">1200.00</text>
<text x="685.00" y="306.22" textLength="15.80" lengthAdjust="spacing" fill="#62656d" font-size="4.80">1300.00</text>
<text x="685.00" y="292.32" textLength="15.80" lengthAdjust="spacing" fill="#62656d" font-size="4.80">1400.00</text>
<text x="685.00" y="278.42" textLength="15.80" lengthAdjust="spacing" fill="#62656d" font-size="4.80">1500.00</text>
<text x="685.00" y="264.53" textLength="15.80" lengthAdjust="spacing" fill="#62656d" font-size="4.80">1600.00</text>
<text x="685.00" y="250.63" textLength="15.80" lengthAdjust="spacing" fill="#62656d" font-size="4.80">1700.00</text>
<text x="685.00" y="236.74" textLength="15.80" lengthAdjust="spacing" fill="#62656d" font-size="4.80">1800.00</text>
<text x="685.00" y="222.84" textLength="15.80" lengthAdjust="spacing" fill="#62656d" font-size="4.80">1900.00</text>
<text x="685.00" y="208.94" textLength="15.80" lengthAdjust="spacing" fill="#62656d" font-size="4.80">2000.00</text>
<text x="685.00" y="195.05" textLength="15.80" lengthAdjust="spacing" fill="#62656d" font-size="4.80">2100.00</text>
<text x="685.00" y="181.15" textLength="15.80" lengthAdjust="spacing" fill="#62656d" font-size="4.80">2200.00</text>
<text x="685.00" y="153.36" textLength="15.80" lengthAdjust="spacing" fill="#62656d" font-size="4.80">2400.00</text>
<text x="685.00" y="139.46" textLength="15.80" lengthAdjust="spacing" fill="#62656d" font-size="4.80">2500.00</text>
<text x="685.00" y="125.57" textLength="15.80" lengthAdjust="spacing" fill="#62656d" font-size="4.80">2600.00</text>
<text x="685.00" y="111.67" textLength="15.80" lengthAdjust="spacing" fill="#62656d" font-size="4.80">2700.00</text>
<text x="685.00" y="97.78" textLength="15.80" lengthAdjust="spacing" fill="#62656d" font-size="4.80">2800.00</text>
<text x="685.00" y="83.88" textLength="15.80" lengthAdjust="spacing" fill="#62656d" font-size="4.80">2900.00</text>
<text x="685.00" y="69.98" textLength="15.80" lengthAdjust="spacing" fill="#62656d" font-size="4.80">3000.00</text>
<text x="685.00" y="56.09" textLength="15.80" lengthAdjust="spacing" fill="#62656d" font-size="4.80">3100.00</text>
<text x="685.00" y="42.19" textLength="15.80" lengthAdjust="spacing" fill="#62656d" font-size="4.80">3200.00</text>
<text x="685.00" y="28.30" textLength="15.80" lengthAdjust="spacing" fill="#62656d" font-size="4.80">3300.00</text>
<text x="685.00" y="14.40" textLength="15.80" lengthAdjust="spacing" fill="#62656d" font-size="4.80">3400.00</text>
<text x="45.55" y="419.20" textLength="10.10" lengthAdjust="spacing" fill="#62656d" font-size="4.80">2009</text>
<text x="97.73" y="419.20" textLength="10.10" lengthAdjust="spacing" fill="#62656d" font-size="4.80">2010</text>
<text x="149.90" y="419.20" textLength="10.10" lengthAdjust="spacing" fill="#62656d" font-size="4.80">2011</text>
<text x="202.08" y="419.20" textLength="10.10" lengthAdjust="spacing" fill="#62656d" font-size="4.80">2012</text>
<text x="255.26" y="419.20" textLength="10.10" lengthAdjust="spacing" fill="#62656d" font-size="4.80">2013</text>
<text x="307.44" y="419.20" textLength="10.10" lengthAdjust="spacing" fill="#62656d" font-size="4.80">2014</text>
<text x="359.61" y="419.20" textLength="10.10" lengthAdjust="spacing" fill="#62656d" font-size="4.80">2015</text>
<text x="411.79" y="419.20" textLength="10.10" lengthAdjust="spacing" fill="#62656d" font-size="4.80">2016</text>
<text x="463.97" y="419.20" textLength="10.10" lengthAdjust="spacing" fill="#62656d" font-size="4.80">2017</text>
<text x="516.14" y="419.20" textLength="10.10" lengthAdjust="spacing" fill="#62656d" font-size="4.80">2018</text>
<text x="569.32" y="419.20" textLength="10.10" lengthAdjust="spacing" fill="#62656d" font-size="4.80">2019</text>
<text x="621.50" y="419.20" textLength="10.10" lengthAdjust="spacing" fill="#62656d" font-size="4.80">2020</text>
<text x="673.68" y="419.20" textLength="10.10" lengthAdjust="spacing" fill="#62656d" font-size="4.80">2021</text>
</g>
<rect x="681.95" y="411.95" width="22.15" height="10.4" fill="#fff"/>
<rect x="681.50" y="160.77" width="22.60" height="6.8" fill="#d9503d"/>
<text x="685.20" y="166.57" textLength="15.80" lengthAdjust="spacing" fill="#fff" font-size="4.80">2304.93</text>
<rect x="645.7" y="5.9" width="1.7" height="1.7" fill="#8e9199"/>
<text x="649.20" y="8.60" textLength="30.60" lengthAdjust="spacingAndGlyphs" fill="#b2b5be" font-size="4.80">Market Closed</text>
<g transform="translate(692.4 417.4)" fill="none" stroke="#6e717a"><circle r="2.05" stroke-width="1.25"/><path d="M0 -3.4V-2.4M0 2.4V3.4M-3.4 0H-2.4M2.4 0H3.4M-2.4 -2.4L-1.8 -1.8M2.4 2.4L1.8 1.8M-2.4 2.4L-1.8 1.8M2.4 -2.4L1.8 -1.8" stroke-width="0.9"/></g>
</g></svg>
</body></html>
